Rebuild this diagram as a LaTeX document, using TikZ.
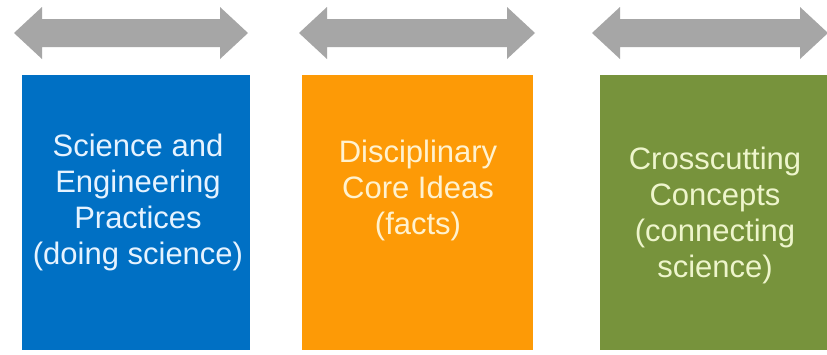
\documentclass[tikz,border=0pt]{standalone}
\usepackage{fontspec}
\setmainfont{Liberation Sans}
\definecolor{arrowgray}{HTML}{A6A6A6}
\definecolor{sepblue}{HTML}{0070C4}
\definecolor{dciorange}{HTML}{FD9A06}
\definecolor{ccgreen}{HTML}{77933C}
\definecolor{txtblue}{HTML}{E6F3FF}
\definecolor{txtorange}{HTML}{FFF2CF}
\definecolor{txtgreen}{HTML}{EEF5CC}
\begin{document}
\begin{tikzpicture}[x=1pt,y=-1pt,
  box/.style={inner sep=0pt, outer sep=0pt},
  label/.style={font=\fontsize{31}{36}\selectfont, align=center, inner sep=0pt, anchor=center},
  dblarrow/.style={fill=arrowgray}]
\useasboundingbox (0,0) rectangle (827,354);
\fill[white] (0,0) rectangle (827,354);
% arrows
\fill[dblarrow] (14,33) -- (42,7) -- (42,19) -- (220,19) -- (220,7) -- (248,33) -- (220,59) -- (220,47) -- (42,47) -- (42,59) -- cycle;
\fill[dblarrow] (299,33) -- (327,7) -- (327,19) -- (507,19) -- (507,7) -- (535,33) -- (507,59) -- (507,47) -- (327,47) -- (327,59) -- cycle;
\fill[dblarrow] (592,33) -- (620,7) -- (620,19) -- (800,19) -- (800,7) -- (828,33) -- (800,59) -- (800,47) -- (620,47) -- (620,59) -- cycle;
% boxes
\fill[sepblue] (22,75) rectangle (250,350);
\fill[dciorange] (302,75) rectangle (533,350);
\fill[ccgreen] (600,75) rectangle (828,350);
\coordinate (b1) at (138,202);
\coordinate (b2) at (418,190);
\coordinate (b3) at (715,215);
\node[label, text=txtblue] (t1) at (b1) {Science and\\Engineering\\Practices\\(doing science)};
\node[label, text=txtorange] (t2) at (b2) {Disciplinary\\Core Ideas\\(facts)};
\node[label, text=txtgreen] (t3) at (b3) {Crosscutting\\Concepts\\(connecting\\science)};
\end{tikzpicture}
\end{document}
